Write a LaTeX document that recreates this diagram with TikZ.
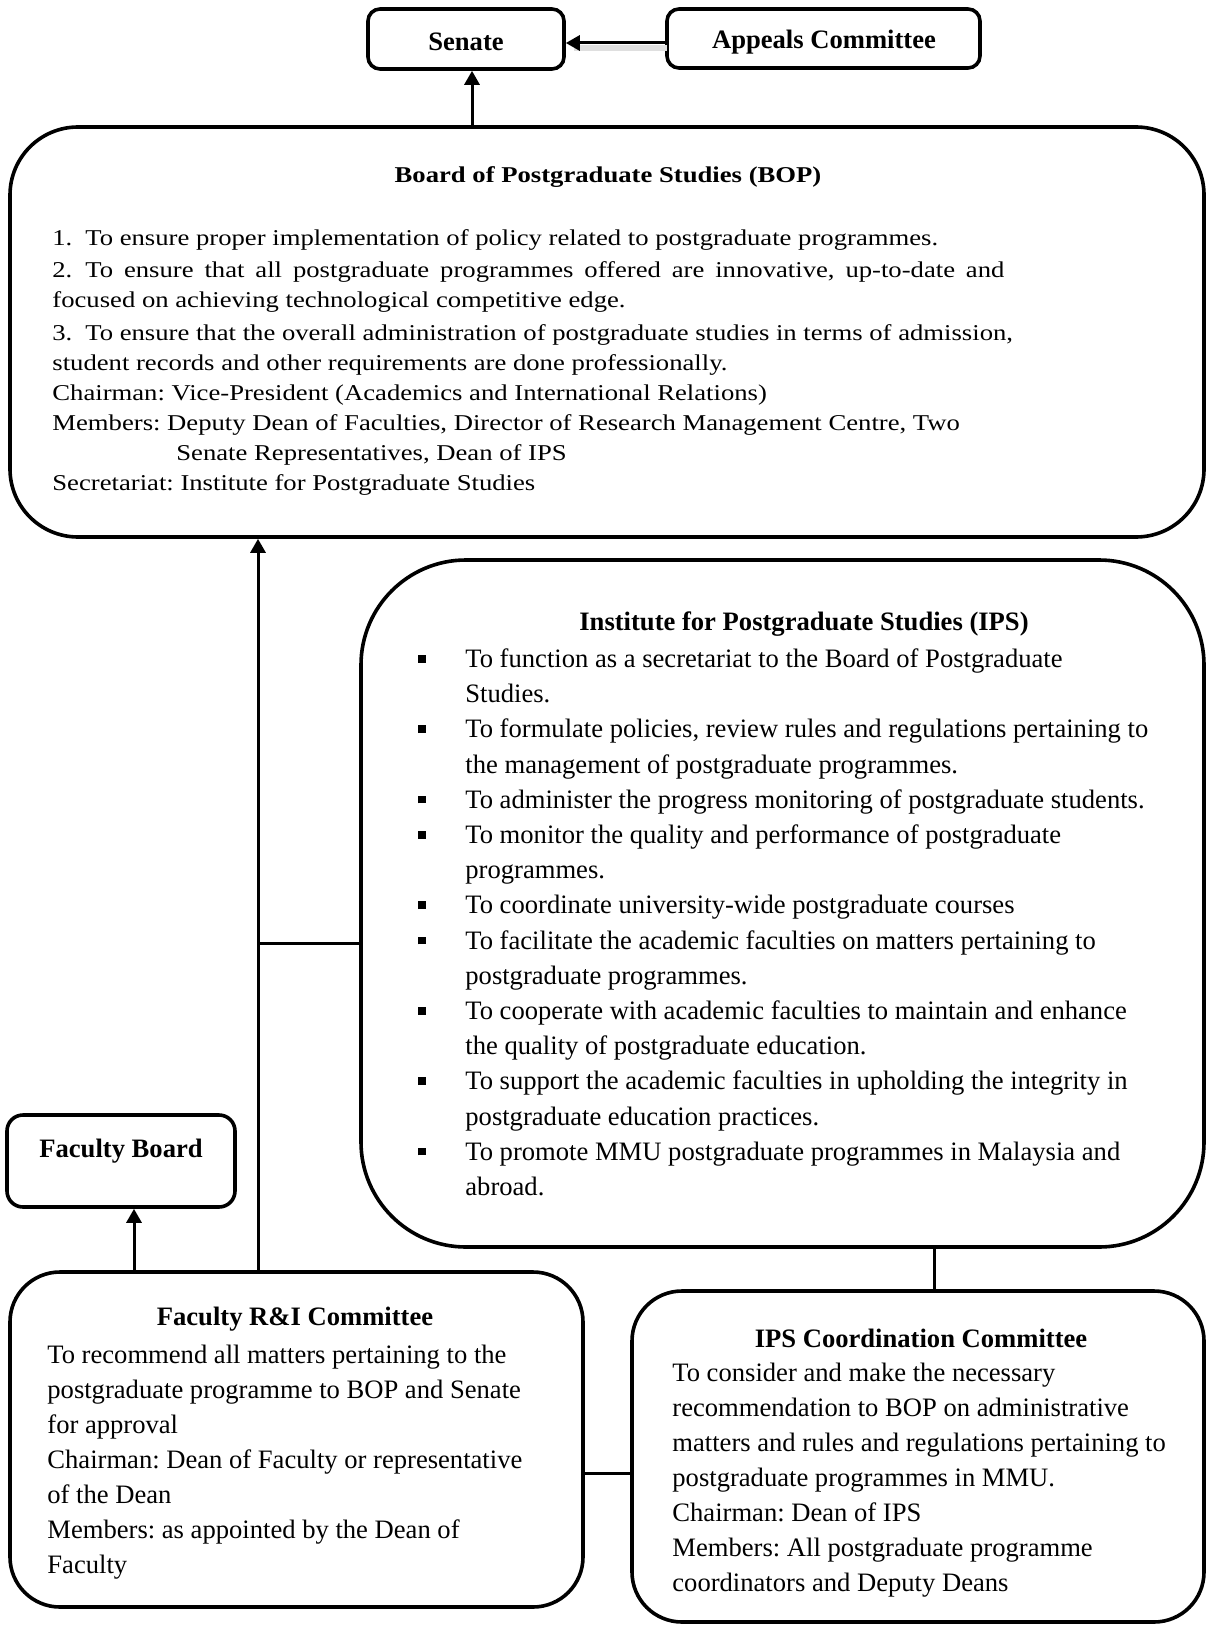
\documentclass[tikz,border=0pt]{standalone}
\usepackage{fontspec}
\setmainfont{Liberation Serif}
\newfontfamily\bopfont[FakeStretch=1.18]{Liberation Serif}
\usetikzlibrary{arrows.meta}
\frenchspacing

\newcommand{\orgbox}[6]{
	\pgfmathsetmacro{\OBcx}{(#2+#4)/2}
	\pgfmathsetmacro{\OBcy}{(#3+#5)/2}
	\pgfmathsetmacro{\OBw}{(#4-#2)/2}
	\pgfmathsetmacro{\OBh}{(#5-#3)/2}
	\pgfmathsetmacro{\OBr}{#6/2}
	\node[orgbox, rounded corners=\OBr pt, minimum width=\OBw pt, minimum height=\OBh pt] (#1) at (\OBcx, \OBcy) {};
}
\newcommand{\sqbullet}{\makebox[23.5pt][l]{\rule[2.4pt]{3.8pt}{3.8pt}}}
\newcommand{\bulletgap}{\hspace*{23.5pt}}

\tikzset{
	orgbox/.style={draw, line width=1.8pt},
	conn/.style={line width=1.5pt},
	up/.style={conn, -{Triangle[length=7pt,width=7.5pt]}},
	bodytext/.style={anchor=north west, inner sep=0pt, align=left, font=\fontsize{13.3}{17.6}\selectfont},
	boptext/.style={anchor=north west, inner sep=0pt, align=left, font=\bopfont\fontsize{11.3}{15}\selectfont},
	titletext/.style={inner sep=0pt, font=\fontsize{13.3}{16}\selectfont\bfseries},
}

\begin{document}
\begin{tikzpicture}[x=0.5pt, y=-0.5pt]
\useasboundingbox (0,0) rectangle (1208,1627);

\orgbox{senate}{368}{9}{564}{69}{12}
\orgbox{appeals}{667}{9}{980}{68}{12}
\orgbox{bop}{10}{127}{1204}{537}{68}
\orgbox{ips}{361}{560}{1204}{1247}{105}
\orgbox{facboard}{7}{1115}{235}{1207}{16}
\orgbox{facri}{10}{1272}{583}{1607}{50}
\orgbox{ipscc}{632}{1291}{1204}{1622}{50}

\node[titletext] (senatelbl) at (466,42) {Senate};
\node[titletext] (appealslbl) at (824,42) {Appeals Committee};
\node[titletext, font=\bopfont\fontsize{11.3}{15}\selectfont\bfseries] (boplbl) at (608,177) {Board of Postgraduate Studies (BOP)};
\node[titletext] (ipslbl) at (804,624) {Institute for Postgraduate Studies (IPS)};
\node[titletext] (facboardlbl) at (121,1151) {Faculty Board};
\node[titletext] (facrilbl) at (295,1319) {Faculty R\&I Committee};
\node[titletext] (ipscclbl) at (921,1338) {IPS Coordination Committee};

\node[boptext] (bopbody) at (52,224.5) {\strut1.\hspace{6.5pt}To ensure proper implementation of policy related to postgraduate programmes.\\[1pt]
\makebox[476pt][s]{2.\hspace{6.5pt}To ensure that all postgraduate programmes offered are innovative, up-to-date and}\\
focused on achieving technological competitive edge.\\[1.5pt]
3.\hspace{6.5pt}To ensure that the overall administration of postgraduate studies in terms of admission,\\
student records and other requirements are done professionally.\\
Chairman: Vice-President (Academics and International Relations)\\
Members: Deputy Dean of Faculties, Director of Research Management Centre, Two\\
\hspace*{62pt}Senate Representatives, Dean of IPS\\
Secretariat: Institute for Postgraduate Studies};

\node[bodytext] (ipsbody) at (418,642.4) {\strut\sqbullet To function as a secretariat to the Board of Postgraduate\\
\bulletgap Studies.\\
\sqbullet To formulate policies, review rules and regulations pertaining to\\
\bulletgap the management of postgraduate programmes.\\
\sqbullet To administer the progress monitoring of postgraduate students.\\
\sqbullet To monitor the quality and performance of postgraduate\\
\bulletgap programmes.\\
\sqbullet To coordinate university-wide postgraduate courses\\
\sqbullet To facilitate the academic faculties on matters pertaining to\\
\bulletgap postgraduate programmes.\\
\sqbullet To cooperate with academic faculties to maintain and enhance\\
\bulletgap the quality of postgraduate education.\\
\sqbullet To support the academic faculties in upholding the integrity in\\
\bulletgap postgraduate education practices.\\
\sqbullet To promote MMU postgraduate programmes in Malaysia and\\
\bulletgap abroad.};

\node[bodytext, font=\fontsize{13.3}{17.5}\selectfont] (facribody) at (47,1338.5) {\strut To recommend all matters pertaining to the\\
postgraduate programme to BOP and Senate\\
for approval\\
Chairman: Dean of Faculty or representative\\
of the Dean\\
Members: as appointed by the Dean of\\
Faculty};

\node[bodytext, font=\fontsize{13.3}{17.5}\selectfont] (ipsccbody) at (672,1357) {\strut To consider and make the necessary\\
recommendation to BOP on administrative\\
matters and rules and regulations pertaining to\\
postgraduate programmes in MMU.\\
Chairman: Dean of IPS\\
Members: All postgraduate programme\\
coordinators and Deputy Deans};

\coordinate (appealsfoot) at (667,43);
\coordinate (bopout) at (472,0);
\coordinate (trunk) at (258,0);
\coordinate (ipsjoin) at (0,943);
\coordinate (fbfoot) at (134,0);
\coordinate (ccjoin) at (934,0);
\coordinate (rilink) at (0,1473);

\draw[conn, gray!25, line width=3pt] ([yshift=-2.5pt]appealsfoot) -- ([xshift=4pt, yshift=-2.5pt]appealsfoot -| senate.east);
\draw[up] (appealsfoot) -- (appealsfoot -| senate.east);
\draw[up] (bopout |- bop.north) -- (bopout |- senate.south);
\draw[up] (trunk |- facri.north) -- (trunk |- bop.south);
\draw[conn] (trunk |- ipsjoin) -- (ipsjoin -| ips.west);
\draw[up] (fbfoot |- facri.north) -- (fbfoot |- facboard.south);
\draw[conn] (ccjoin |- ips.south) -- (ccjoin |- ipscc.north);
\draw[conn] (rilink -| facri.east) -- (rilink -| ipscc.west);
\end{tikzpicture}
\end{document}
